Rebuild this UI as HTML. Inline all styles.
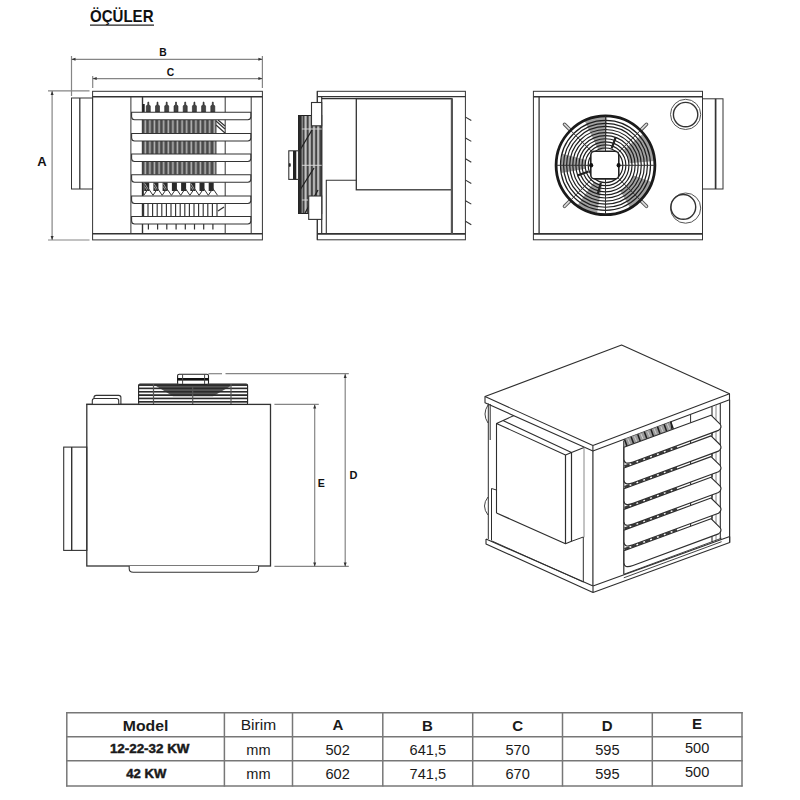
<!DOCTYPE html>
<html><head><meta charset="utf-8">
<style>
html,body{margin:0;padding:0;background:#fff;}
body{width:800px;height:800px;position:relative;overflow:hidden;font-family:"Liberation Sans",sans-serif;}
svg{position:absolute;left:0;top:0;}
</style></head><body>
<svg width="800" height="800" viewBox="0 0 800 800">
<defs>
<pattern id="fins" x="0.5" y="0" width="4.6" height="20" patternUnits="userSpaceOnUse">
<rect width="4.6" height="20" fill="#4a4a4a"/><rect x="1.4" width="1.6" height="20" fill="#b5b5b5"/>
</pattern>
<pattern id="fanv" x="298.5" y="0" width="4.2" height="20" patternUnits="userSpaceOnUse">
<rect width="4.2" height="20" fill="#444"/><rect x="1.9" width="2.0" height="20" fill="#c8c8c8"/>
</pattern>
<pattern id="guardh" x="0" y="384.2" width="20" height="3.35" patternUnits="userSpaceOnUse">
<rect width="20" height="3.35" fill="#fff"/><rect y="0" width="20" height="1.7" fill="#2c2c2c"/>
</pattern>
</defs>
<text x="90" y="21.8" font-family="Liberation Sans" font-size="17" font-weight="bold" fill="#111" textLength="63.5" lengthAdjust="spacingAndGlyphs">ÖÇÜLER</text>
<line x1="90" y1="25.2" x2="154" y2="25.2" stroke="#222" stroke-width="1.3"/>
<g fill="none" stroke="#333" stroke-width="1">
<g stroke="#858585" stroke-width="1.2">
<line x1="71.5" y1="59.3" x2="262.4" y2="59.3"/>
<line x1="92.7" y1="78.6" x2="262.4" y2="78.6"/>
<line x1="71.5" y1="56" x2="71.5" y2="96"/>
<line x1="262.4" y1="56" x2="262.4" y2="88"/>
<line x1="92.7" y1="76" x2="92.7" y2="88"/>
<line x1="48" y1="90.9" x2="89.5" y2="90.9"/>
<line x1="48" y1="240" x2="89.5" y2="240"/>
<line x1="52.1" y1="91" x2="52.1" y2="240"/>
</g>
<g fill="#333" stroke="none">
<path d="M71.5 59.3 l4 -1.5 v3z"/><path d="M262.4 59.3 l-4 -1.5 v3z"/>
<path d="M92.7 78.6 l4 -1.5 v3z"/><path d="M262.4 78.6 l-4 -1.5 v3z"/>
<path d="M52.1 91 l-1.5 4 h3z"/><path d="M52.1 240 l-1.5 -4 h3z"/>
</g>
<rect x="92.6" y="91.3" width="169.8" height="148.6" fill="#fff"/>
<line x1="92.6" y1="96.8" x2="262.4" y2="96.8" stroke-width="1.6"/>
<line x1="92.6" y1="233.8" x2="262.4" y2="233.8" stroke-width="1.6"/>
<rect x="71.5" y="98" width="21.1" height="91"/>
<line x1="79.8" y1="98" x2="79.8" y2="189" stroke-width="1.3"/>
<line x1="130.9" y1="97" x2="130.9" y2="234"/>
<line x1="142.5" y1="97" x2="142.5" y2="234" stroke-width="1.4"/>
<line x1="225.2" y1="97" x2="225.2" y2="234"/>
<line x1="251.2" y1="97" x2="251.2" y2="234"/>
<rect x="142.5" y="120" width="74" height="13.5" fill="url(#fins)" stroke="none"/>
<rect x="142.5" y="140.5" width="74" height="13.5" fill="url(#fins)" stroke="none"/>
<rect x="142.5" y="161.5" width="74" height="13.300000000000011" fill="url(#fins)" stroke="none"/>
<path d="M216 121 l9 8 M216 125 l9 8 M218 120 l7 6" stroke="#333" stroke-width="1.2"/>
<rect x="144.2" y="182.5" width="5" height="8.5" fill="#2a2a2a" stroke="none"/>
<path d="M144.8 183.5 l3.6 6 M144.8 186.5 l2.5 4" stroke="#bbb" stroke-width="0.8"/>
<rect x="153.4" y="182.5" width="5" height="8.5" fill="#2a2a2a" stroke="none"/>
<path d="M154.0 183.5 l3.6 6 M154.0 186.5 l2.5 4" stroke="#bbb" stroke-width="0.8"/>
<rect x="162.6" y="182.5" width="5" height="8.5" fill="#2a2a2a" stroke="none"/>
<path d="M163.2 183.5 l3.6 6 M163.2 186.5 l2.5 4" stroke="#bbb" stroke-width="0.8"/>
<rect x="171.9" y="182.5" width="5" height="8.5" fill="#2a2a2a" stroke="none"/>
<rect x="181.1" y="182.5" width="5" height="8.5" fill="#2a2a2a" stroke="none"/>
<rect x="190.3" y="182.5" width="5" height="8.5" fill="#2a2a2a" stroke="none"/>
<path d="M190.9 183.5 l3.6 6 M190.9 186.5 l2.5 4" stroke="#bbb" stroke-width="0.8"/>
<rect x="199.5" y="182.5" width="5" height="8.5" fill="#2a2a2a" stroke="none"/>
<rect x="208.7" y="182.5" width="5" height="8.5" fill="#2a2a2a" stroke="none"/>
<path d="M143.8 195.3 L148.4 188.5 L153.0 195.3 M153.0 195.3 L157.6 188.5 L162.2 195.3 M162.2 195.3 L166.8 188.5 L171.4 195.3 M171.5 195.3 L176.1 188.5 L180.7 195.3 M180.7 195.3 L185.3 188.5 L189.9 195.3 M189.9 195.3 L194.5 188.5 L199.1 195.3 M199.1 195.3 L203.7 188.5 L208.3 195.3 M208.3 195.3 L212.9 188.5 L217.5 195.3 " stroke="#333" stroke-width="1"/>
<path d="M143 183 V195.4" stroke="#222" stroke-width="1.6"/>
<line x1="143.4" y1="204" x2="143.4" y2="216.3" stroke-width="1.6"/>
<line x1="148.0" y1="204" x2="148.0" y2="216.3" stroke-width="1.15"/>
<line x1="152.6" y1="204" x2="152.6" y2="216.3" stroke-width="1.15"/>
<line x1="157.2" y1="204" x2="157.2" y2="216.3" stroke-width="1.15"/>
<line x1="161.8" y1="204" x2="161.8" y2="216.3" stroke-width="1.15"/>
<line x1="166.4" y1="204" x2="166.4" y2="216.3" stroke-width="1.15"/>
<line x1="171.0" y1="204" x2="171.0" y2="216.3" stroke-width="1.15"/>
<line x1="175.6" y1="204" x2="175.6" y2="216.3" stroke-width="1.15"/>
<line x1="180.2" y1="204" x2="180.2" y2="216.3" stroke-width="1.15"/>
<line x1="184.8" y1="204" x2="184.8" y2="216.3" stroke-width="1.15"/>
<line x1="189.4" y1="204" x2="189.4" y2="216.3" stroke-width="1.15"/>
<line x1="194.0" y1="204" x2="194.0" y2="216.3" stroke-width="1.15"/>
<line x1="198.6" y1="204" x2="198.6" y2="216.3" stroke-width="1.15"/>
<line x1="203.2" y1="204" x2="203.2" y2="216.3" stroke-width="1.15"/>
<line x1="207.8" y1="204" x2="207.8" y2="216.3" stroke-width="1.15"/>
<line x1="212.4" y1="204" x2="212.4" y2="216.3" stroke-width="1.15"/>
<line x1="217.0" y1="204" x2="217.0" y2="216.3" stroke-width="1.15"/>
<path d="M218 211 l6 -4" stroke="#333" stroke-width="1.3"/>
<line x1="148.4" y1="224" x2="148.4" y2="229.5" stroke-width="1.2"/>
<line x1="157.6" y1="224" x2="157.6" y2="229.5" stroke-width="1.2"/>
<line x1="166.8" y1="224" x2="166.8" y2="229.5" stroke-width="1.2"/>
<line x1="176.1" y1="224" x2="176.1" y2="229.5" stroke-width="1.2"/>
<line x1="185.3" y1="224" x2="185.3" y2="229.5" stroke-width="1.2"/>
<line x1="194.5" y1="224" x2="194.5" y2="229.5" stroke-width="1.2"/>
<line x1="203.7" y1="224" x2="203.7" y2="229.5" stroke-width="1.2"/>
<line x1="212.9" y1="224" x2="212.9" y2="229.5" stroke-width="1.2"/>
<rect x="142.5" y="104" width="2.2" height="8" fill="#222" stroke="none"/>
<path d="M146.3 112 L146.3 106 L147.7 104.5 L147.9 102 L148.7 102 L148.9 104.5 L150.3 106 L150.3 112z" fill="#444" stroke="#222" stroke-width="0.6"/>
<path d="M155.5 112 L155.5 106 L156.9 104.5 L157.1 102 L157.9 102 L158.1 104.5 L159.5 106 L159.5 112z" fill="#444" stroke="#222" stroke-width="0.6"/>
<path d="M164.7 112 L164.7 106 L166.1 104.5 L166.3 102 L167.1 102 L167.3 104.5 L168.7 106 L168.7 112z" fill="#444" stroke="#222" stroke-width="0.6"/>
<path d="M174.0 112 L174.0 106 L175.4 104.5 L175.6 102 L176.4 102 L176.6 104.5 L178.0 106 L178.0 112z" fill="#444" stroke="#222" stroke-width="0.6"/>
<path d="M183.2 112 L183.2 106 L184.6 104.5 L184.8 102 L185.6 102 L185.8 104.5 L187.2 106 L187.2 112z" fill="#444" stroke="#222" stroke-width="0.6"/>
<path d="M192.4 112 L192.4 106 L193.8 104.5 L194.0 102 L194.8 102 L195.0 104.5 L196.4 106 L196.4 112z" fill="#444" stroke="#222" stroke-width="0.6"/>
<path d="M201.6 112 L201.6 106 L203.0 104.5 L203.2 102 L204.0 102 L204.2 104.5 L205.6 106 L205.6 112z" fill="#444" stroke="#222" stroke-width="0.6"/>
<path d="M210.8 112 L210.8 106 L212.2 104.5 L212.4 102 L213.2 102 L213.4 104.5 L214.8 106 L214.8 112z" fill="#444" stroke="#222" stroke-width="0.6"/>
<path d="M131.6 112.2 L250.8 112.2 L250.8 116.7 Q250.8 119.7 247.8 119.7 L134.6 119.7 Q131.6 119.7 131.6 116.7 Z" fill="#fff" stroke-width="1.1"/>
<path d="M131.6 133.5 L250.8 133.5 L250.8 138.0 Q250.8 141.0 247.8 141.0 L134.6 141.0 Q131.6 141.0 131.6 138.0 Z" fill="#fff" stroke-width="1.1"/>
<path d="M131.6 154.0 L250.8 154.0 L250.8 158.5 Q250.8 161.5 247.8 161.5 L134.6 161.5 Q131.6 161.5 131.6 158.5 Z" fill="#fff" stroke-width="1.1"/>
<path d="M131.6 174.8 L250.8 174.8 L250.8 179.3 Q250.8 182.3 247.8 182.3 L134.6 182.3 Q131.6 182.3 131.6 179.3 Z" fill="#fff" stroke-width="1.1"/>
<path d="M131.6 196.0 L250.8 196.0 L250.8 200.5 Q250.8 203.5 247.8 203.5 L134.6 203.5 Q131.6 203.5 131.6 200.5 Z" fill="#fff" stroke-width="1.1"/>
<path d="M131.6 216.5 L250.8 216.5 L250.8 221.0 Q250.8 224.0 247.8 224.0 L134.6 224.0 Q131.6 224.0 131.6 221.0 Z" fill="#fff" stroke-width="1.1"/>
</g>
<text x="37.3" y="166.4" font-family="Liberation Sans" font-size="13" font-weight="bold" fill="#111">A</text>
<text x="159.2" y="55.9" font-family="Liberation Sans" font-size="10.3" font-weight="bold" fill="#111">B</text>
<text x="166.8" y="76.1" font-family="Liberation Sans" font-size="10.3" font-weight="bold" fill="#111">C</text>
<g fill="none" stroke="#333" stroke-width="1">
<rect x="317.3" y="91.3" width="148.1" height="148.5" fill="#fff"/>
<line x1="317.3" y1="96.7" x2="465.4" y2="96.7" stroke-width="1.3"/>
<line x1="321.7" y1="98.6" x2="451.9" y2="98.6" stroke-width="1.3"/>
<line x1="321.7" y1="96.7" x2="321.7" y2="233.8" stroke-width="1.2"/>
<line x1="317.3" y1="233.8" x2="465.4" y2="233.8" stroke-width="1.7"/>
<rect x="356.3" y="98.6" width="95.6" height="91.2" stroke-width="1.3"/>
<line x1="451.9" y1="98.6" x2="451.9" y2="233.8" stroke="#555" stroke-width="2.2"/>
<path d="M326.3 233.8 V180.3 H356.3" stroke-width="1.1"/>

<rect x="298.5" y="115.5" width="23.2" height="98" fill="url(#fanv)" stroke="#222" stroke-width="1"/>
<path d="M299 129 H321.7 M299 165.3 H321.7 M299 200 H321.7" stroke="#ddd" stroke-width="0.9"/>
<path d="M300 150 L312 130 M300 190 L314 168 M305 213 L318 190" stroke="#222" stroke-width="1.3"/>
<rect x="298.5" y="115.5" width="3.2" height="98" fill="#2a2a2a" stroke="none"/>
<rect x="311.5" y="102.5" width="10.2" height="23.3" fill="#fff" stroke-width="1.1"/>
<rect x="308.7" y="196" width="13" height="23.4" fill="#fff" stroke-width="1.1"/>
<rect x="288.8" y="150.8" width="9.7" height="28.6" fill="#fff" stroke="#333" stroke-width="1.1"/>
<rect x="293" y="151" width="3.3" height="28.4" fill="#222" stroke="none"/>
<ellipse cx="289.8" cy="165" rx="1" ry="2" fill="#222" stroke="none"/>
<line x1="317.3" y1="219.4" x2="317.3" y2="239.8" stroke-width="1.1"/>
<line x1="317.3" y1="91.3" x2="317.3" y2="102.5" stroke-width="1.1"/>
<path d="M465.5 117.1 L471.3 120.5 M465.5 138.0 L471.3 141.4 M465.5 158.8 L471.3 162.2 M465.5 180.1 L471.3 183.5 M465.5 200.7 L471.3 204.1 M465.5 221.3 L471.3 224.7 " stroke="#333" stroke-width="1.1"/>
</g>
<g fill="none" stroke="#333" stroke-width="1">
<rect x="533.4" y="91.3" width="169.1" height="148.5" fill="#fff"/>
<line x1="533.4" y1="96.7" x2="702.5" y2="96.7" stroke-width="1.6"/>
<line x1="533.4" y1="233.8" x2="702.5" y2="233.8" stroke-width="1.8"/>
<line x1="539.1" y1="96.7" x2="539.1" y2="233.8" stroke-width="1.3"/>
<rect x="702.5" y="98.8" width="20.5" height="90.2"/>
<line x1="715.6" y1="98.8" x2="715.6" y2="189" stroke-width="1.7"/>
<circle cx="685.6" cy="114.4" r="15.1" stroke="#555" stroke-width="1"/>
<circle cx="685.6" cy="114.6" r="12.2" stroke-width="1.4"/>
<circle cx="685.6" cy="208.1" r="15.1" stroke="#555" stroke-width="1"/>
<circle cx="683.3" cy="206.9" r="12.4" stroke-width="1.4"/>

<path d="M598.74 150.80 L584.79 120.89 A49 49 0 0 1 607.21 116.33 L606.06 149.31 A16 16 0 0 0 598.74 150.80Z M623.89 149.87 L643.04 133.80 A49 49 0 0 1 654.31 161.03 L629.41 163.21 A24 24 0 0 0 623.89 149.87Z M633.69 175.56 L651.54 182.06 A49 49 0 0 1 630.00 207.74 L620.50 191.28 A30 30 0 0 0 633.69 175.56Z M602.03 185.00 L596.99 213.56 A49 49 0 0 1 577.39 205.44 L594.03 181.68 A20 20 0 0 0 602.03 185.00Z M585.80 168.77 L561.18 173.11 A45 45 0 0 1 562.03 153.65 L586.18 160.12 A20 20 0 0 0 585.80 168.77Z" fill="#444" stroke="none" opacity="0.5"/>
<line x1="570.14" y1="129.94" x2="564.49" y2="124.29" stroke="#555" stroke-width="3.6" stroke-linecap="round"/>
<line x1="570.14" y1="129.94" x2="564.49" y2="124.29" stroke="#ddd" stroke-width="1.6" stroke-linecap="round"/>
<line x1="640.86" y1="129.94" x2="646.51" y2="124.29" stroke="#555" stroke-width="3.6" stroke-linecap="round"/>
<line x1="640.86" y1="129.94" x2="646.51" y2="124.29" stroke="#ddd" stroke-width="1.6" stroke-linecap="round"/>
<line x1="640.86" y1="200.66" x2="646.51" y2="206.31" stroke="#555" stroke-width="3.6" stroke-linecap="round"/>
<line x1="640.86" y1="200.66" x2="646.51" y2="206.31" stroke="#ddd" stroke-width="1.6" stroke-linecap="round"/>
<line x1="570.14" y1="200.66" x2="564.49" y2="206.31" stroke="#555" stroke-width="3.6" stroke-linecap="round"/>
<line x1="570.14" y1="200.66" x2="564.49" y2="206.31" stroke="#ddd" stroke-width="1.6" stroke-linecap="round"/>
<g stroke="#1e1e1e" stroke-width="1.2"><circle cx="605.5" cy="165.3" r="17.30"/><circle cx="605.5" cy="165.3" r="20.38"/><circle cx="605.5" cy="165.3" r="23.46"/><circle cx="605.5" cy="165.3" r="26.54"/><circle cx="605.5" cy="165.3" r="29.62"/><circle cx="605.5" cy="165.3" r="32.70"/><circle cx="605.5" cy="165.3" r="35.78"/><circle cx="605.5" cy="165.3" r="38.86"/><circle cx="605.5" cy="165.3" r="41.94"/><circle cx="605.5" cy="165.3" r="45.02"/></g>
<circle cx="605.5" cy="165.3" r="49.4" stroke="#1a1a1a" stroke-width="2.8"/>
<path d="M619.50 165.30 L654.50 165.30 M605.50 179.30 L605.50 214.30 M591.50 165.30 L556.50 165.30 M605.50 151.30 L605.50 116.30 M615.40 155.40 L640.15 130.65 M615.40 175.20 L640.15 199.95 M595.60 175.20 L570.85 199.95 M595.60 155.40 L570.85 130.65 " stroke="#333" stroke-width="1"/>
<line x1="611.66" y1="148.39" x2="615.76" y2="137.11" stroke="#222" stroke-width="2.2"/>
<line x1="588.59" y1="171.46" x2="577.31" y2="175.56" stroke="#222" stroke-width="2.2"/>
<line x1="600.84" y1="182.69" x2="597.74" y2="194.28" stroke="#222" stroke-width="2.2"/>
<rect x="590.8" y="151.3" width="28" height="27.6" rx="4" fill="#fff" stroke="#222" stroke-width="1.6"/>
<ellipse cx="591.2" cy="165.2" rx="2" ry="2.2" fill="#111" stroke="none"/><ellipse cx="618.6" cy="165.2" rx="2" ry="2.2" fill="#111" stroke="none"/>
</g>
<g fill="none" stroke="#333" stroke-width="1">
<g stroke="#858585" stroke-width="1.2">
<line x1="208.5" y1="373.7" x2="222" y2="373.7"/><line x1="225.5" y1="373.7" x2="348.8" y2="373.7"/>
<line x1="345.2" y1="374" x2="345.2" y2="566.4"/>
<line x1="274.4" y1="566.4" x2="348.8" y2="566.4"/>
<line x1="274.4" y1="404.4" x2="318.8" y2="404.4"/>
<line x1="314.7" y1="404.6" x2="314.7" y2="566.4"/>
</g>
<g fill="#333" stroke="none">
<path d="M345.2 374 l-1.5 4 h3z"/><path d="M345.2 566.4 l-1.5 -4 h3z"/>
<path d="M314.7 404.6 l-1.5 4 h3z"/><path d="M314.7 566.4 l-1.5 -4 h3z"/>
</g>
<rect x="86.8" y="404.4" width="183.7" height="161.6" fill="#fff" stroke-width="1.3"/>
<rect x="63.7" y="447.1" width="23.1" height="103.3" stroke-width="1.1"/>
<line x1="71.7" y1="447.1" x2="71.7" y2="550.4" stroke-width="1.4"/>
<path d="M129.2 566 v2.5 q0 3.8 4 3.8 h121.4 q4 0 4 -3.8 v-2.5" fill="#fff" stroke-width="1.1"/>
<path d="M94 404.4 V397.6 q0 -2.2 2.2 -2.2 H118.7 q2.2 0 2.2 2.2 V404.4" stroke-width="1.1"/>
<path d="M92.3 404.4 V400.6 q0 -2.1 2.1 -2.1 H116.6 q2.1 0 2.1 2.1 V404.4" fill="#fff" stroke-width="1.1"/>
<line x1="86.2" y1="404.4" x2="138.6" y2="404.4" stroke-width="1.3"/>

<rect x="138.6" y="384" width="109" height="20.4" rx="1.5" fill="url(#guardh)" stroke="#222" stroke-width="1.1"/>
<path d="M154 384.8 L233 384.8 L213 396.3 L173 396.3 Z" fill="#2a2a2a" stroke="none" opacity="0.8"/>
<path d="M153.5 384 V404 M231 384 V404 M192.7 386 V404" stroke="#555" stroke-width="1.2"/>
<rect x="177.6" y="374.2" width="30.9" height="10.2" rx="1.5" fill="#fff" stroke="#222" stroke-width="1.1"/>
<rect x="177.6" y="378" width="30.9" height="2.6" fill="#111" stroke="none"/>
<path d="M182.6 374.5 V384 M204.6 374.5 V384" stroke="#444" stroke-width="1"/>
</g>
<text x="317.7" y="487.4" font-family="Liberation Sans" font-size="10.6" font-weight="bold" fill="#111">E</text>
<text x="349.5" y="479.1" font-family="Liberation Sans" font-size="11" font-weight="bold" fill="#111">D</text>
<g fill="none" stroke="#2e2e2e" stroke-width="1.1" stroke-linejoin="round">
<path d="M486 402.8 L592.9 451 L729.5 399.8 L729.7 542.4 L593 592.5 L486 544 Z" fill="#fff" stroke="none"/>
<path d="M485 396.6 L621.6 345 L729.5 393.8 L729.5 399.8 L592.9 451 L485 402.8 Z" fill="#fff"/>
<path d="M485 396.6 L592.9 445.4 L729.5 393.8 M592.9 445.4 V451" />
<path d="M488.3 403.5 V539 M490.2 404 V440 M491.5 540.5 V488.5 L496.5 490" stroke-width="1"/>
<path d="M496.5 513 V423.5 L514 415.5 M496.5 423.5 L565.5 455 L571.5 452.5 L584 447.5 M503 420.6 L571.5 452.5" />
<path d="M565.5 455 V543.7 L571.5 541.3 V452.5 M496.5 513 L565.5 543.7" stroke-width="1.2"/>
<path d="M584 447.5 V537.3" stroke="#888" stroke-width="1"/>
<path d="M571.5 541.3 L583.3 537 V582" stroke-width="1"/>
<path d="M488 405 Q482 414 488 423 M488 497 Q481 506 488 515" stroke-width="0.9"/>
<path d="M592.9 451 V586" stroke-width="1.2"/>
<path d="M486 539 L593 586 L729.7 536.4 M486 539 V544 L593 592.5 L729.7 542.4 V536.4 M593 586 V592.5"/>
<path d="M492 541 L583.3 582" stroke-width="0.9"/>
<path d="M623.8 440.6 V574.3" stroke-width="1.2"/>
<path d="M720.3 403.3 V539.5 M712 406.4 V542" stroke-width="1.1"/>
<path d="M716 404.9 V541" stroke="#888" stroke-width="1"/>
<path d="M729.6 399.8 V542.4" stroke-width="1.2"/>
<path d="M623.8 574.3 L721.6 538.2 M623.8 577.8 L721.6 541.7" stroke-width="0.9"/>
<path d="M624 439.34 L671 421.73 L671 429.93 L624 447.30Z" fill="#9a9a9a" stroke="none"/>
<path d="M624.5 439.16 L627.1 446.15 M631.1 436.68 L633.7 443.72 M637.7 434.21 L640.3 441.28 M644.3 431.74 L646.9 438.84 M650.9 429.26 L653.5 436.40 M657.5 426.79 L660.1 433.96 M664.1 424.31 L666.7 431.52 M670.7 421.84 L673.3 429.08 " stroke="#1e1e1e" stroke-width="1.5"/>
<path d="M627.8 438.92 L630.0 444.08 M634.4 436.45 L636.6 441.64 M641.0 433.97 L643.2 439.21 M647.6 431.50 L649.8 436.77 M654.2 429.02 L656.4 434.33 M660.8 426.55 L663.0 431.89 M667.4 424.08 L669.6 429.45 " stroke="#e0e0e0" stroke-width="0.8"/>
<path d="M671 421.73 L671.8 429.64" stroke="#222" stroke-width="1.2"/>
<path d="M690.6 414.4 V423.2" stroke-width="1"/>
<path d="M624.5 466.6 L677 447.2" stroke="#3c3c3c" stroke-width="2.8" stroke-dasharray="5.5 1.8"/>
<path d="M690.6 440.5 v3 M712 432.6 v3" stroke="#333" stroke-width="1.1"/>
<path d="M624.5 487.3 L677 467.9" stroke="#3c3c3c" stroke-width="2.8" stroke-dasharray="5.5 1.8"/>
<path d="M690.6 461.2 v3 M712 453.3 v3" stroke="#333" stroke-width="1.1"/>
<path d="M624.5 508.0 L677 488.6" stroke="#3c3c3c" stroke-width="2.8" stroke-dasharray="5.5 1.8"/>
<path d="M690.6 481.9 v3 M712 474.0 v3" stroke="#333" stroke-width="1.1"/>
<path d="M624.5 528.7 L677 509.3" stroke="#3c3c3c" stroke-width="2.8" stroke-dasharray="5.5 1.8"/>
<path d="M690.6 502.6 v3 M712 494.7 v3" stroke="#333" stroke-width="1.1"/>
<path d="M624.5 549.4 L677 530.0" stroke="#3c3c3c" stroke-width="2.8" stroke-dasharray="5.5 1.8"/>
<path d="M690.6 523.3 v3 M712 515.4 v3" stroke="#333" stroke-width="1.1"/>
<path d="M624 447.3 L711 415.2 L720.3 424.3 Q722.3 427.8 718.5 430.4 L633 462.0 Q624 465.3 624 459.3 Z" fill="#fff" stroke-width="1.15"/>
<path d="M624 468.0 L711 435.9 L720.3 445.0 Q722.3 448.5 718.5 451.1 L633 482.7 Q624 486.0 624 480.0 Z" fill="#fff" stroke-width="1.15"/>
<path d="M624 488.7 L711 456.6 L720.3 465.7 Q722.3 469.2 718.5 471.8 L633 503.4 Q624 506.7 624 500.7 Z" fill="#fff" stroke-width="1.15"/>
<path d="M624 509.4 L711 477.3 L720.3 486.4 Q722.3 489.9 718.5 492.5 L633 524.1 Q624 527.4 624 521.4 Z" fill="#fff" stroke-width="1.15"/>
<path d="M624 530.1 L711 498.0 L720.3 507.1 Q722.3 510.6 718.5 513.2 L633 544.8 Q624 548.1 624 542.1 Z" fill="#fff" stroke-width="1.15"/>
<path d="M624 550.8 L711 518.7 L720.3 527.8 Q722.3 531.3 718.5 533.9 L633 565.5 Q624 568.8 624 562.8 Z" fill="#fff" stroke-width="1.15"/>
</g>
<g stroke="#777" stroke-width="1.5" fill="none"><line x1="66.1" y1="712.8" x2="742.7" y2="712.8"/><line x1="66.1" y1="736.7" x2="742.7" y2="736.7"/><line x1="66.1" y1="760.8" x2="742.7" y2="760.8"/><line x1="66.1" y1="785.9" x2="742.7" y2="785.9"/><line x1="66.8" y1="712.0999999999999" x2="66.8" y2="786.6"/><line x1="224.4" y1="712.0999999999999" x2="224.4" y2="786.6"/><line x1="292.5" y1="712.0999999999999" x2="292.5" y2="786.6"/><line x1="382.8" y1="712.0999999999999" x2="382.8" y2="786.6"/><line x1="472.7" y1="712.0999999999999" x2="472.7" y2="786.6"/><line x1="562.5" y1="712.0999999999999" x2="562.5" y2="786.6"/><line x1="652.3" y1="712.0999999999999" x2="652.3" y2="786.6"/><line x1="742" y1="712.0999999999999" x2="742" y2="786.6"/></g>
<text x="145.6" y="730.6" text-anchor="middle" font-family="Liberation Sans" font-size="14.3" font-weight="bold" textLength="45.6" lengthAdjust="spacingAndGlyphs" fill="#1a1a1a">Model</text>
<text x="258.4" y="730.4" text-anchor="middle" font-family="Liberation Sans" font-size="14.3" textLength="35.4" lengthAdjust="spacingAndGlyphs" fill="#1a1a1a">Birim</text>
<text x="337.9" y="730.4" text-anchor="middle" font-family="Liberation Sans" font-size="15" font-weight="bold" fill="#1a1a1a">A</text>
<text x="427.5" y="730.7" text-anchor="middle" font-family="Liberation Sans" font-size="15" font-weight="bold" fill="#1a1a1a">B</text>
<text x="517.6" y="730.7" text-anchor="middle" font-family="Liberation Sans" font-size="15" font-weight="bold" fill="#1a1a1a">C</text>
<text x="607.2" y="730.7" text-anchor="middle" font-family="Liberation Sans" font-size="15" font-weight="bold" fill="#1a1a1a">D</text>
<text x="697.1" y="728.9" text-anchor="middle" font-family="Liberation Sans" font-size="15" font-weight="bold" fill="#1a1a1a">E</text>
<text x="149.7" y="753.2" text-anchor="middle" font-family="Liberation Sans" font-size="12.3" font-weight="bold" stroke="#1a1a1a" stroke-width="0.45" textLength="79.6" lengthAdjust="spacingAndGlyphs" fill="#1a1a1a">12-22-32 KW</text>
<text x="146.3" y="777.5" text-anchor="middle" font-family="Liberation Sans" font-size="12.3" font-weight="bold" stroke="#1a1a1a" stroke-width="0.45" textLength="40" lengthAdjust="spacingAndGlyphs" fill="#1a1a1a">42 KW</text>
<text x="258.4" y="754.8" text-anchor="middle" font-family="Liberation Sans" font-size="14.6" fill="#1a1a1a">mm</text>
<text x="337.6" y="754.8" text-anchor="middle" font-family="Liberation Sans" font-size="14.6" fill="#1a1a1a">502</text>
<text x="427.8" y="754.8" text-anchor="middle" font-family="Liberation Sans" font-size="14.6" fill="#1a1a1a">641,5</text>
<text x="517.6" y="754.8" text-anchor="middle" font-family="Liberation Sans" font-size="14.6" fill="#1a1a1a">570</text>
<text x="607.4" y="754.8" text-anchor="middle" font-family="Liberation Sans" font-size="14.6" fill="#1a1a1a">595</text>
<text x="258.4" y="778.9" text-anchor="middle" font-family="Liberation Sans" font-size="14.6" fill="#1a1a1a">mm</text>
<text x="337.6" y="778.9" text-anchor="middle" font-family="Liberation Sans" font-size="14.6" fill="#1a1a1a">602</text>
<text x="427.8" y="778.9" text-anchor="middle" font-family="Liberation Sans" font-size="14.6" fill="#1a1a1a">741,5</text>
<text x="517.6" y="778.9" text-anchor="middle" font-family="Liberation Sans" font-size="14.6" fill="#1a1a1a">670</text>
<text x="607.4" y="778.9" text-anchor="middle" font-family="Liberation Sans" font-size="14.6" fill="#1a1a1a">595</text>
<text x="697.1" y="753.3" text-anchor="middle" font-family="Liberation Sans" font-size="14.6" fill="#1a1a1a">500</text>
<text x="697.1" y="776.6" text-anchor="middle" font-family="Liberation Sans" font-size="14.6" fill="#1a1a1a">500</text>
</svg>
</body></html>
